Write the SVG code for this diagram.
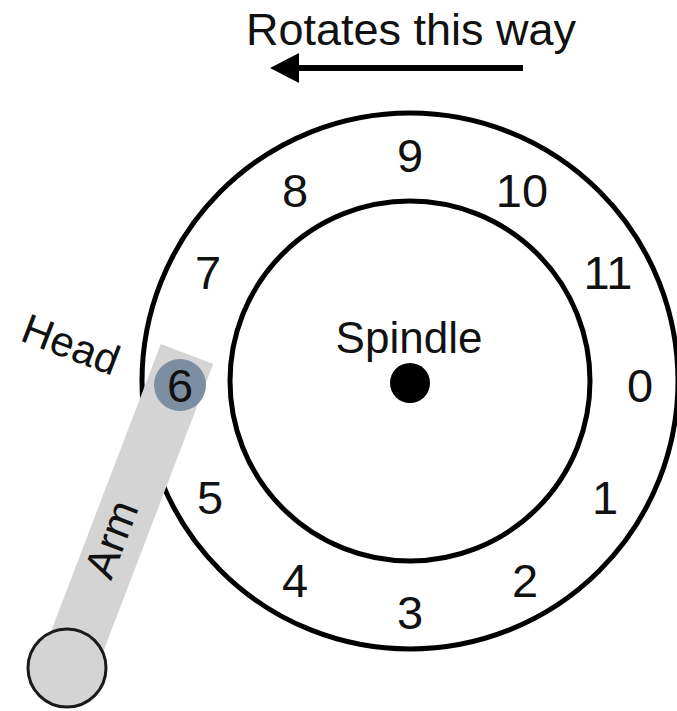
<svg xmlns="http://www.w3.org/2000/svg" width="677" height="711" viewBox="0 0 677 711">
  <defs>
    <style>
      .t { font-family: "Liberation Sans", Arial, sans-serif; fill: #111; }
      .num { font-size: 47px; text-anchor: middle; }
      .ring { fill: none; stroke: #000; stroke-width: 5; }
    </style>
  </defs>
  <rect width="677" height="711" fill="#fff"/>

  <g id="title">
    <text class="t" x="411" y="45" font-size="45" text-anchor="middle">Rotates this way</text>
  </g>

  <g id="connectors">
    <line x1="523" y1="68" x2="282" y2="68" stroke="#000" stroke-width="6"/>
    <path d="M270,68 L299,53 L299,83 z" fill="#000"/>
  </g>

  <g id="disk">
    <circle class="ring" cx="410" cy="381" r="268"/>
    <circle class="ring" cx="410" cy="381" r="180"/>
  </g>

  <g id="spindle">
    <circle cx="410" cy="383" r="20" fill="#000"/>
    <text class="t" x="409" y="353" font-size="44" text-anchor="middle">Spindle</text>
  </g>

  <g id="sectors">
    <text class="t num" x="410" y="172">9</text>
    <text class="t num" x="295" y="207">8</text>
    <text class="t num" x="522" y="207">10</text>
    <text class="t num" x="208" y="289">7</text>
    <text class="t num" x="608" y="289">11</text>
    <text class="t num" x="640" y="402">0</text>
    <text class="t num" x="210" y="514">5</text>
    <text class="t num" x="605" y="514">1</text>
    <text class="t num" x="295" y="597">4</text>
    <text class="t num" x="525" y="597">2</text>
    <text class="t num" x="410" y="629">3</text>
  </g>

  <g id="arm">
    <polygon points="160.8,344 213.2,364 93.2,678 40.8,658" fill="#d4d4d4"/>
    <circle cx="67" cy="668" r="39" fill="#d4d4d4" stroke="#1a1a1a" stroke-width="3"/>
    <text class="t" x="0" y="0" font-size="43" text-anchor="middle" transform="translate(111,539) rotate(-69) translate(0,15)">Arm</text>
  </g>

  <g id="head">
    <circle cx="180" cy="385" r="26" fill="#7c8ea2"/>
    <text class="t num" x="180" y="402" fill="#1a2030">6</text>
    <text class="t" x="0" y="0" font-size="42" text-anchor="middle" transform="translate(71,344) rotate(21) translate(0,15)">Head</text>
  </g>
</svg>
